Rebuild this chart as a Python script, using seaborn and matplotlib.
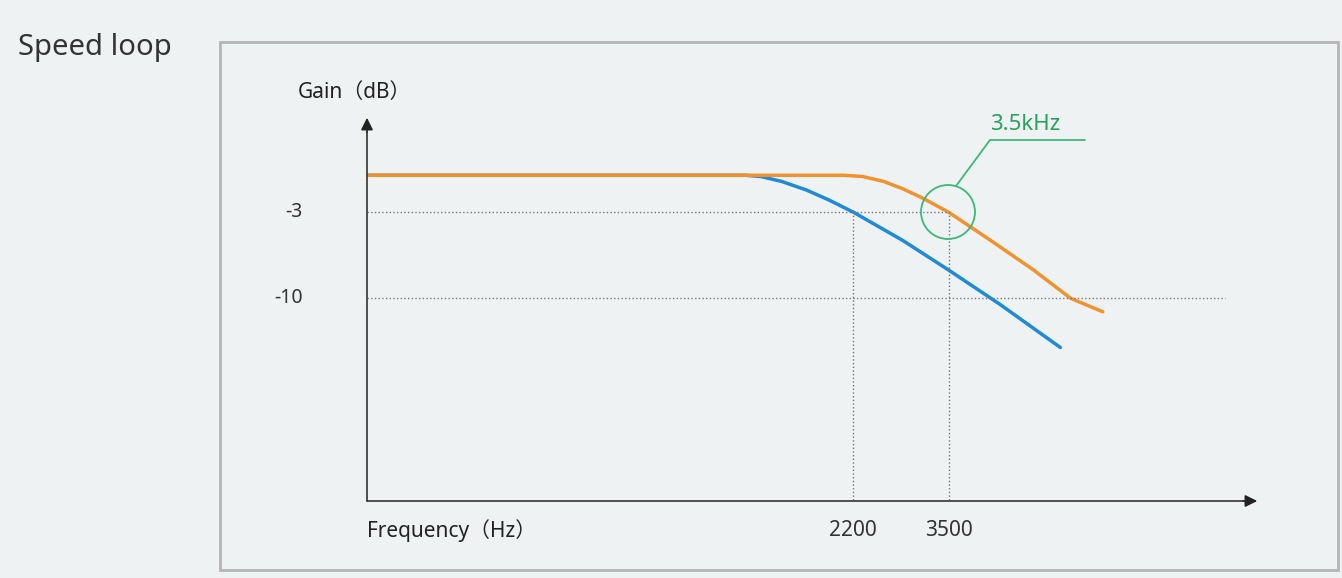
import matplotlib
matplotlib.use("Agg")
import matplotlib.pyplot as plt
from matplotlib.patches import Rectangle, Ellipse
from matplotlib.lines import Line2D
import pandas as pd
import seaborn as sns

sns.set_theme(style="white")
plt.rcParams["font.family"] = ["Noto Sans", "Noto Sans CJK JP", "Noto Sans CJK SC", "DejaVu Sans"]

# data (frequency in Hz, gain in dB)
blue_freq = [205, 1300, 1400, 1550, 1750, 1950, 2200, 2800, 3500, 4500, 6040]
blue_gain = [0, 0, -0.1, -0.5, -1.2, -2.0, -3.0, -5.3, -7.7, -10.5, -14.0]
orange_freq = [205, 2100, 2300, 2550, 2800, 3100, 3500, 4300, 5300, 6350, 7430]
orange_gain = [0, 0, -0.1, -0.5, -1.1, -1.9, -3.0, -5.3, -7.7, -10.0, -11.1]
ref_gain = [-3, -10]
ref_freq = [2200, 3500]
tick_labels = ["2200", "3500"]

W, H = 1342, 578
BG = "#eef2f3"
fig = plt.figure(figsize=(W / 100, H / 100), dpi=100, facecolor=BG)

def fx(px): return px / W
def fy(py): return 1 - py / H

fig.patches.append(Rectangle((fx(220), fy(570)), fx(1338) - fx(220), fy(42) - fy(570),
                             transform=fig.transFigure, fill=False, ec="#b5b5b5", lw=2))
fig.text(fx(18), fy(48), "Speed loop", fontsize=21, color="#333333", va="center")

ax = fig.add_axes([fx(367), fy(500), fx(1260) - fx(367), fy(115) - fy(500)])
ax.patch.set_alpha(0)
ax.set_xscale("log")
ax.set_xlim(205, 16000)
ax.set_ylim(-26.4, 4.9)
for s in ax.spines.values():
    s.set_visible(False)
ax.set_xticks([]); ax.set_yticks([]); ax.minorticks_off()

df = pd.concat([
    pd.DataFrame({"f": blue_freq, "g": blue_gain, "s": "blue"}),
    pd.DataFrame({"f": orange_freq, "g": orange_gain, "s": "orange"}),
])
sns.lineplot(data=df, x="f", y="g", hue="s", palette={"blue": "#1f8ad6", "orange": "#f0922e"},
             sort=False, lw=2.5, legend=False, ax=ax)
ax.set_xlabel(""); ax.set_ylabel("")

# dotted reference lines
ax.plot([205, 3500], [ref_gain[0]] * 2, ls=":", color="#777777", lw=1)
ax.plot([205, 13500], [ref_gain[1]] * 2, ls=":", color="#777777", lw=1)
ax.plot([ref_freq[0]] * 2, [-26.4, ref_gain[0]], ls=":", color="#777777", lw=1)
ax.plot([ref_freq[1]] * 2, [-26.4, ref_gain[0]], ls=":", color="#777777", lw=1)

# axes arrows
fig.add_artist(Line2D([fx(367), fx(1245)], [fy(501), fy(501)], color="#333333", lw=1.2))
fig.add_artist(Line2D([fx(367), fx(367)], [fy(501), fy(130)], color="#333333", lw=1.2))
ax.annotate("", xy=(fx(1260), fy(501)), xytext=(fx(1240), fy(501)), xycoords="figure fraction",
            arrowprops=dict(arrowstyle="-|>", color="#222222", lw=1.2, mutation_scale=18))
ax.annotate("", xy=(fx(367), fy(115)), xytext=(fx(367), fy(135)), xycoords="figure fraction",
            arrowprops=dict(arrowstyle="-|>", color="#222222", lw=1.2, mutation_scale=18))

fig.text(fx(298), fy(93), "Gain（dB）", fontsize=15, color="#222222", va="center")
fig.text(fx(367), fy(531), "Frequency（Hz）", fontsize=15, color="#222222", va="center")
for lab, f in zip(tick_labels, ref_freq):
    ax.text(f, -28.9, lab, ha="center", va="center", fontsize=15, color="#333333")
for g in ref_gain:
    ax.text(150, g, str(g), ha="right", va="center", fontsize=14, color="#333333")

# highlight
green = "#25a35a"
fig.patches.append(Ellipse((fx(948), fy(212)), 54 / W, 54 / H, transform=fig.transFigure,
                           fill=False, ec="#3cb878", lw=1.3))
fig.add_artist(Line2D([fx(956), fx(990), fx(1085)], [fy(186), fy(140), fy(140)], color="#3cb878", lw=1.3))
fig.text(fx(990), fy(124), "3.5kHz", fontsize=16, color=green, va="center")

fig.savefig("out.png", dpi=100, facecolor=BG)
